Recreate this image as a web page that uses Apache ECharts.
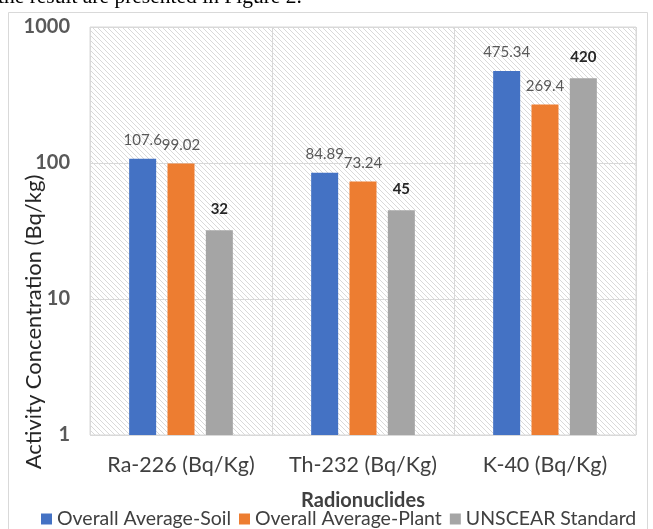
<!DOCTYPE html>
<html><head><meta charset="utf-8">
<script src="https://cdn.jsdelivr.net/npm/echarts@6/dist/echarts.min.js"></script>
<style>html,body{margin:0;padding:0;background:#fff;}#c{width:653px;height:529px;}</style>
</head><body><div id="c"></div>
<script>
const categories = ['Ra-226 (Bq/Kg)', 'Th-232 (Bq/Kg)', 'K-40 (Bq/Kg)'];
const soil = [107.6, 84.89, 475.34];
const plant = [99.02, 73.24, 269.4];
const unscear = [32, 45, 420];
const seriesNames = ['Overall Average-Soil', 'Overall Average-Plant', 'UNSCEAR Standard'];

const FONT = 'Lato';
// hatch pattern
const pc = document.createElement('canvas');
pc.width = 5; pc.height = 5;
const pctx = pc.getContext('2d');
pctx.fillStyle = '#ffffff'; pctx.fillRect(0,0,5,5);
pctx.fillStyle = '#d9d9d9';
for (let i = 0; i < 5; i++) pctx.fillRect(i, i, 1, 1);

const chart = echarts.init(document.getElementById('c'));
function lbl(bold, color){
  return {show:true, position:'top', distance: bold ? 14 : 11, fontFamily:FONT, fontSize:15,
    fontWeight: bold ? 'bold' : 'normal', color: color};
}
chart.setOption({
  animation:false,
  backgroundColor:'#fff',
  textStyle:{fontFamily:FONT},
  graphic:[
    {type:'text', left:-2, top:-14, style:{text:'the result are presented in Figure 2.', font:'21.5px "Liberation Serif"', fill:'#000'}},
    {type:'rect', shape:{x:8.5, y:12.5, width:639, height:530}, style:{fill:null, stroke:'#d9d9d9', lineWidth:1}, z:-1},
    {type:'text', x:34, y:322, rotation:Math.PI/2, style:{text:'Activity Concentration (Bq/kg)', font:'22px Lato', fill:'#262626', align:'center', verticalAlign:'middle'}}
  ],
  grid:{left:90, right:17, top:27, bottom:94, outerBoundsMode:'none', containLabel:false, show:true, backgroundColor:{image:pc, repeat:'repeat'}, borderColor:'#d9d9d9', borderWidth:1},
  legend:{bottom:-5, left:36, itemWidth:11, itemHeight:11, itemGap:8,
    textStyle:{fontFamily:FONT, fontSize:19.5, color:'#404040'}, icon:'rect', data:seriesNames},
  xAxis:{type:'category', data:categories,
    name:'Radionuclides', nameLocation:'middle', nameGap:56,
    nameTextStyle:{fontFamily:FONT, fontSize:20, fontWeight:'bold', color:'#404040'},
    axisLine:{show:false}, axisTick:{show:false},
    axisLabel:{interval:0, fontFamily:FONT, fontSize:21.5, color:'#404040', margin:19},
    splitLine:{show:true, interval:0, lineStyle:{color:'#d9d9d9', width:1}}},
  yAxis:{type:'log', logBase:10, min:1, max:1000,
    axisLine:{show:false}, axisTick:{show:false},
    axisLabel:{fontFamily:FONT, fontSize:20, fontWeight:'bold', color:'#595959', margin:20, formatter:function(v){return String(v);}},
    splitLine:{show:true, lineStyle:{color:'#d9d9d9', width:1}}},
  series:[
    {name:seriesNames[0], type:'bar', data:soil, barWidth:27, barGap:'42%', itemStyle:{color:'#4472C4'}, label:lbl(false,'#595959')},
    {name:seriesNames[1], type:'bar', data:plant, barWidth:27, itemStyle:{color:'#ED7D31'}, label:lbl(false,'#595959')},
    {name:seriesNames[2], type:'bar', data:unscear, barWidth:27, itemStyle:{color:'#A5A5A5'}, label:lbl(true,'#262626')}
  ]
});
</script></body></html>
